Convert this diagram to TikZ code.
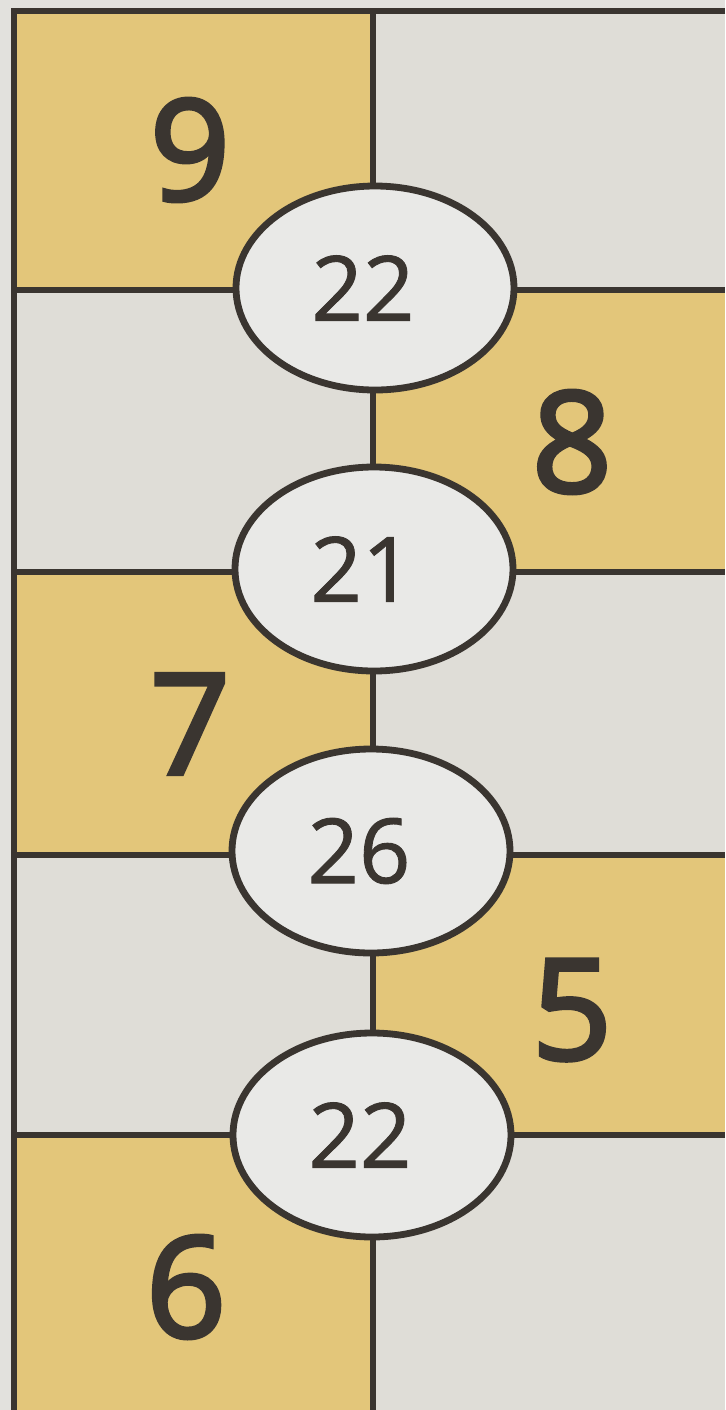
\documentclass[tikz,border=0pt]{standalone}
\usepackage{fontspec}
\setsansfont{Open Sans}
\newfontfamily\cellfont[FakeBold=3]{Open Sans}
\newfontfamily\ovalfont[FakeBold=1]{Open Sans}
\usetikzlibrary{shapes.geometric}
\definecolor{paper}{RGB}{226,225,221}
\definecolor{gold}{RGB}{227,198,122}
\definecolor{pale}{RGB}{223,221,215}
\definecolor{oval}{RGB}{233,233,231}
\definecolor{ink}{RGB}{58,53,48}

\begin{document}
\begin{tikzpicture}[
  x=0.5pt, y=-0.5pt,
  font=\sffamily,
  edge/.style={draw=ink, line width=3.4pt},
  cellnum/.style={text=ink, font=\fontsize{70}{70}\selectfont\cellfont},
  sumoval/.style={ellipse, draw=ink, line width=3.4pt, fill=oval, text=ink,
    minimum width=139pt, minimum height=102pt, inner sep=0pt,
    font=\fontsize{45}{45}\selectfont\ovalfont}
]
  \useasboundingbox (0,0) rectangle (725,1410);
  \fill[paper] (0,0) rectangle (725,1410);

  % cells, gold and pale in turn
  \fill[pale] (14,11) rectangle (725,1410);
  \foreach \ya/\yb in {11/290, 572/855, 1135/1410}
    \fill[gold] (14,\ya) rectangle (373,\yb);
  \foreach \ya/\yb in {290/572, 855/1135}
    \fill[gold] (373,\ya) rectangle (725,\yb);

  % frame and row lines
  \draw[edge] (725,11) -- (14,11) -- (14,1410);
  \draw[edge] (373,11) -- (373,1410);
  \foreach \y in {290, 572, 855, 1135}
    \draw[edge] (14,\y) -- (725,\y);

  % numbers in the cells
  \node[cellnum] (n9) at (190,150) {9};
  \node[cellnum] (n8) at (572,442) {8};
  \node[cellnum] (n7) at (190,724) {7};
  \node[cellnum] (n5) at (572,1010) {5};
  \node[cellnum] (n6) at (186,1287) {6};

  % sums on the row lines
  \node[sumoval] (s1) at (375,288) {\hspace*{-12pt}22};
  \node[sumoval] (s2) at (374,569) {\hspace*{-12pt}21};
  \node[sumoval] (s3) at (371,851) {\hspace*{-12pt}26};
  \node[sumoval] (s4) at (372,1135) {\hspace*{-12pt}22};
\end{tikzpicture}
\end{document}
